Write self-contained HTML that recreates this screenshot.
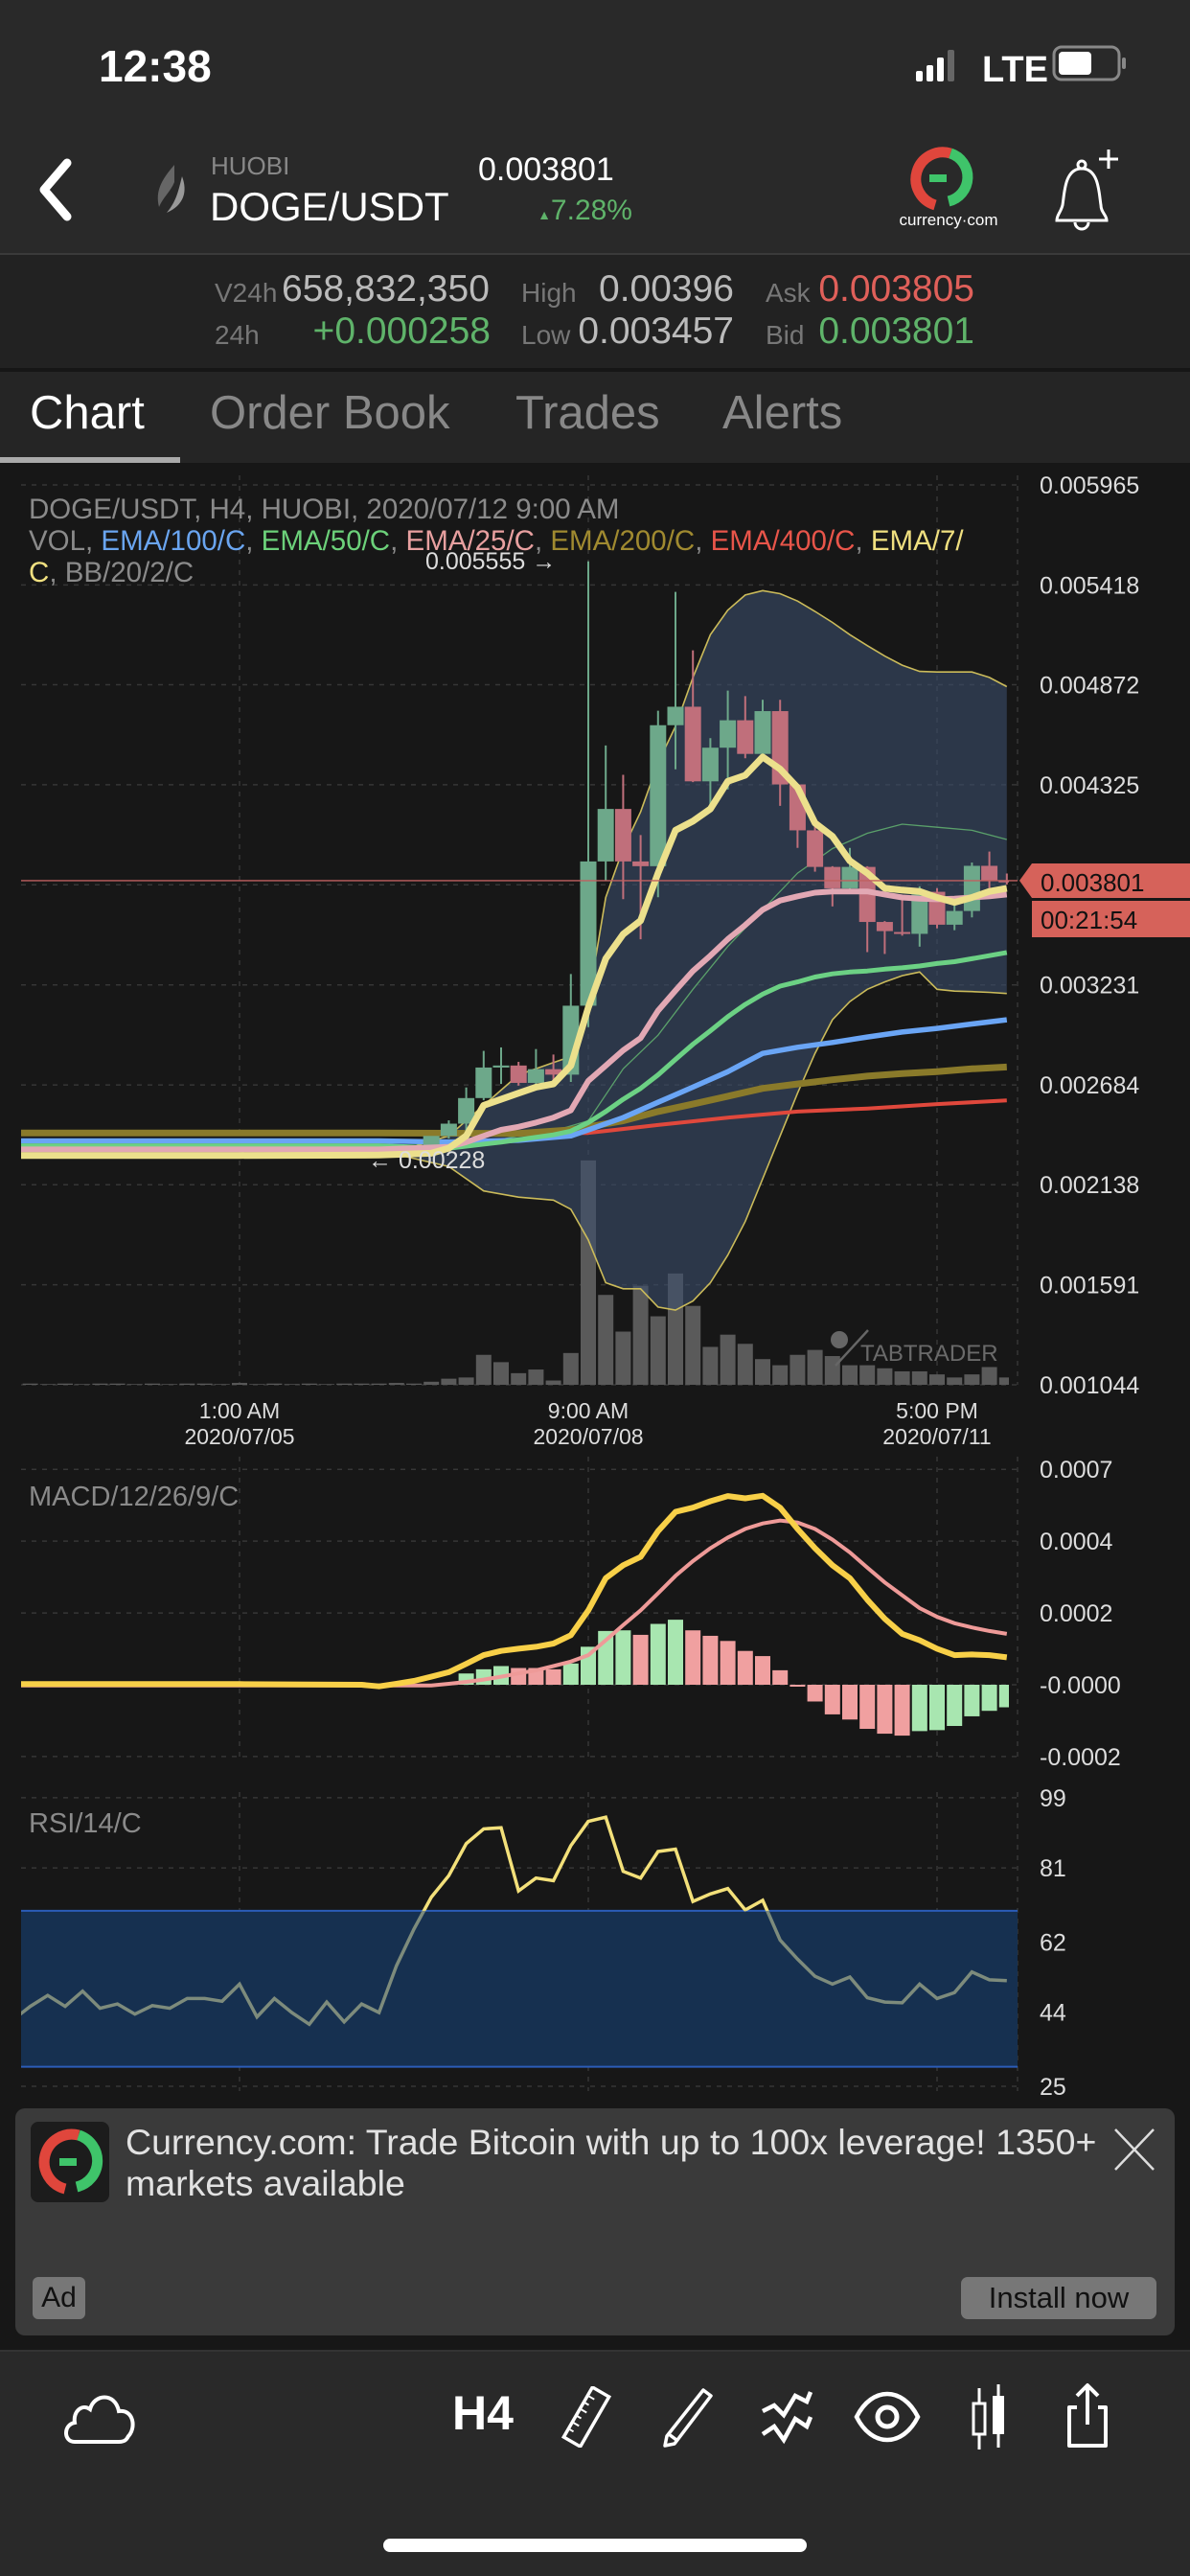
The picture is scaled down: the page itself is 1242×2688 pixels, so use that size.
<!DOCTYPE html>
<html><head><meta charset="utf-8">
<style>
*{margin:0;padding:0;box-sizing:border-box}
body{width:1242px;height:2688px;background:#171717;font-family:"Liberation Sans",sans-serif;position:relative;overflow:hidden;color:#fff}
.a{position:absolute;white-space:nowrap}
</style></head><body>
<div class="a" style="left:0;top:0;width:1242px;height:264px;background:#292929"></div>
<div class="a" style="left:103px;top:42px;font-size:46px;font-weight:bold">12:38</div>
<svg class="a" style="left:950px;top:44px" width="230" height="46">
<rect x="6" y="30" width="7" height="11" rx="2" fill="#fff"/><rect x="17" y="24" width="7" height="17" rx="2" fill="#fff"/><rect x="28" y="16" width="7" height="25" rx="2" fill="#fff"/><rect x="39" y="8" width="7" height="33" rx="2" fill="#666"/>
<text x="75" y="41" font-size="38" font-weight="bold" fill="#fff" font-family="Liberation Sans">LTE</text>
<rect x="150" y="5" width="68" height="34" rx="8" fill="none" stroke="#888" stroke-width="3"/><rect x="155" y="10" width="34" height="24" rx="4" fill="#fff"/><rect x="221" y="16" width="4" height="12" rx="2" fill="#888"/>
</svg>
<svg class="a" style="left:36px;top:164px" width="44" height="70"><path d="M34 6 L10 34 L34 62" stroke="#fff" stroke-width="9" fill="none" stroke-linecap="round" stroke-linejoin="round"/></svg>
<svg class="a" style="left:160px;top:170px" width="40" height="56"><path d="M22 2 C8 18 2 30 6 46 C10 36 18 30 22 20 Z" fill="#666"/><path d="M30 14 C36 30 32 44 14 52 C24 40 26 30 30 14Z" fill="#999"/></svg>
<div class="a" style="left:220px;top:158px;font-size:26px;color:#888">HUOBI</div>
<div class="a" style="left:219px;top:192px;font-size:42px;color:#fff">DOGE/USDT</div>
<div class="a" style="left:499px;top:158px;font-size:34px;color:#fff">0.003801</div>
<div class="a" style="left:550px;top:203px;width:110px;text-align:right;font-size:30px;color:#5fb36a"><span style="font-size:14px">▲</span>7.28%</div>
<svg class="a" style="left:930px;top:152px" width="120" height="90">
<path d="M62 8 A26 26 0 1 0 46 62" stroke="#e0463c" stroke-width="11" fill="none"/><path d="M62 8 A26 26 0 0 1 60 58" stroke="#3fc46a" stroke-width="11" fill="none"/><rect x="40" y="30" width="18" height="8" fill="#3fc46a"/>
<text x="60" y="83" font-size="17" fill="#fff" text-anchor="middle" font-family="Liberation Sans">currency·com</text></svg>
<svg class="a" style="left:1095px;top:152px" width="82" height="90">
<path d="M32 24 C16 26 16 50 14 62 C12 70 8 72 8 78 L60 78 C60 72 54 70 54 62 C52 50 52 26 36 24 Z" stroke="#fff" stroke-width="3" fill="none"/><circle cx="34" cy="20" r="4" stroke="#fff" stroke-width="3" fill="none"/><path d="M27 80 A7 7 0 0 0 41 80" stroke="#fff" stroke-width="3" fill="none"/><path d="M62 4 V24 M52 14 H72" stroke="#fff" stroke-width="3"/></svg>
<div class="a" style="left:0;top:264px;width:1242px;height:120px;background:#222;border-top:2px solid #3a3a3a"></div>
<div class="a" style="left:0;top:384px;width:1242px;height:4px;background:#161616"></div>
<div class="a" style="left:224px;top:290px;font-size:28px;color:#777">V24h</div>
<div class="a" style="left:294px;top:280px;font-size:39px;color:#bbb">658,832,350</div>
<div class="a" style="left:224px;top:334px;font-size:28px;color:#777">24h</div>
<div class="a" style="left:290px;top:324px;width:222px;text-align:right;font-size:39px;color:#5fb36a">+0.000258</div>
<div class="a" style="left:544px;top:290px;font-size:28px;color:#777">High</div>
<div class="a" style="left:596px;top:280px;width:170px;text-align:right;font-size:39px;color:#bbb">0.00396</div>
<div class="a" style="left:544px;top:334px;font-size:28px;color:#777">Low</div>
<div class="a" style="left:596px;top:324px;width:170px;text-align:right;font-size:39px;color:#bbb">0.003457</div>
<div class="a" style="left:799px;top:290px;font-size:28px;color:#777">Ask</div>
<div class="a" style="left:830px;top:280px;width:187px;text-align:right;font-size:39px;color:#e0605a">0.003805</div>
<div class="a" style="left:799px;top:334px;font-size:28px;color:#777">Bid</div>
<div class="a" style="left:830px;top:324px;width:187px;text-align:right;font-size:39px;color:#5fb36a">0.003801</div>
<div class="a" style="left:0;top:388px;width:1242px;height:95px;background:#252525"></div>
<div class="a" style="left:31px;top:403px;font-size:49px;color:#fff">Chart</div>
<div class="a" style="left:219px;top:403px;font-size:49px;color:#888">Order Book</div>
<div class="a" style="left:538px;top:403px;font-size:49px;color:#888">Trades</div>
<div class="a" style="left:754px;top:403px;font-size:49px;color:#888">Alerts</div>
<div class="a" style="left:0;top:477px;width:188px;height:6px;background:#aaa"></div>

<svg id="ch" class="a" style="left:0;top:483px" width="1242" height="1710" viewBox="0 483 1242 1710" font-family="Liberation Sans"></svg>

<div class="a" style="left:16px;top:2200px;width:1210px;height:237px;background:#3a3a3a;border-radius:10px"></div>
<svg class="a" style="left:32px;top:2214px" width="82" height="84"><rect width="82" height="84" rx="8" fill="#1c1c1c"/><path d="M50 14 A28 28 0 1 0 36 70" stroke="#e0463c" stroke-width="11" fill="none"/><path d="M50 14 A28 28 0 0 1 48 68" stroke="#3fc46a" stroke-width="11" fill="none"/><rect x="30" y="38" width="18" height="8" fill="#3fc46a"/></svg>
<div class="a" style="left:131px;top:2214px;font-size:37.5px;color:#e2e2e2;line-height:43px">Currency.com: Trade Bitcoin with up to 100x leverage! 1350+<br>markets available</div>
<svg class="a" style="left:1160px;top:2220px" width="48" height="46"><path d="M4 2 L44 44 M44 2 L4 44" stroke="#ddd" stroke-width="2.5"/></svg>
<div class="a" style="left:34px;top:2376px;width:55px;height:44px;background:#777;border-radius:6px;color:#111;font-size:30px;text-align:center;line-height:44px">Ad</div>
<div class="a" style="left:1003px;top:2376px;width:204px;height:44px;background:#777;border-radius:7px;color:#111;font-size:31px;text-align:center;line-height:44px">Install now</div>

<div class="a" style="left:0;top:2452px;width:1242px;height:236px;background:#292929;border-top:2px solid #333"></div>
<svg class="a" style="left:64px;top:2490px" width="82" height="64"><path d="M14 58 C2 58 2 40 14 38 C12 26 22 18 30 24 C34 8 56 6 60 26 C76 24 78 44 70 52 C68 56 66 58 60 58 Z" stroke="#fff" stroke-width="4" fill="none"/></svg>
<div class="a" style="left:472px;top:2489px;font-size:50px;font-weight:bold;color:#fff">H4</div>
<svg class="a" style="left:582px;top:2490px" width="60" height="64"><g transform="rotate(30 30 32)"><rect x="20" y="2" width="20" height="60" stroke="#fff" stroke-width="3.5" fill="none"/><path d="M20 12h8M20 20h6M20 28h8M20 36h6M20 44h8M20 52h6" stroke="#fff" stroke-width="2"/></g></svg>
<svg class="a" style="left:688px;top:2490px" width="58" height="64"><path d="M46 4 L54 10 L16 60 L6 62 L8 52 Z M10 50 L18 56" stroke="#fff" stroke-width="3.5" fill="none" stroke-linejoin="round"/></svg>
<svg class="a" style="left:792px;top:2490px" width="58" height="64"><path d="M4 26 L16 20 L26 30 L38 10 L50 16 L54 6 M4 50 L16 42 L26 56 L38 34 L50 42 L54 32" stroke="#fff" stroke-width="4.5" fill="none"/></svg>
<svg class="a" style="left:890px;top:2494px" width="72" height="56"><path d="M4 28 C20 -4 52 -4 68 28 C52 60 20 60 4 28 Z" stroke="#fff" stroke-width="4.5" fill="none"/><circle cx="36" cy="28" r="10" stroke="#fff" stroke-width="5" fill="none"/></svg>
<svg class="a" style="left:1010px;top:2486px" width="44" height="72"><path d="M12 6V70 M32 2V68" stroke="#fff" stroke-width="3"/><rect x="6" y="22" width="12" height="32" stroke="#fff" stroke-width="3" fill="#292929"/><rect x="26" y="14" width="12" height="40" fill="#fff"/></svg>
<svg class="a" style="left:1110px;top:2486px" width="50" height="70"><path d="M14 26 H6 V66 H44 V26 H36 M25 44 V4 M14 14 L25 3 L36 14" stroke="#fff" stroke-width="4" fill="none" stroke-linejoin="round"/></svg>
<div class="a" style="left:400px;top:2649px;width:442px;height:14px;background:#fff;border-radius:7px"></div>

<script>
// ---- data (prices in micro-USDT, 1e-6) ----
const candleIdx = [-32,-31,-30,-29,-28,-27,-26,-25,-24,-23,-22,-21,-20,-19,-18,-17,-16,-15,-14,-13,-12,-11,-10,-9,-8,-7,-6,-5,-4,-3,-2,-1,0,1,2,3,4,5,6,7,8,9,10,11,12,13,14,15,16,17,18,19,20,21,22,23,24];
const opens  = [2300,2302,2298,2301,2299,2300,2303,2300,2298,2301,2302,2299,2300,2304,2301,2298,2300,2297,2301,2299,2300,2303,2306,2310,2405,2472,2612,2779,2790,2695,2770,2740,3117,3906,4193,3906,3880,4651,4752,4344,4528,4678,4494,4728,4327,4076,3876,3759,3876,3575,3520,3510,3740,3560,3635,3882,3802];
const highs  = [2310,2311,2308,2310,2309,2310,2312,2309,2308,2310,2311,2309,2310,2314,2310,2308,2309,2307,2310,2309,2312,2316,2320,2330,2490,2670,2870,2889,2810,2880,2850,3290,5547,4540,4380,4050,4730,5380,5060,4580,4840,4810,4790,4790,4330,4100,3880,3980,3880,3580,3700,3770,3760,3710,3900,3960,3840];
const lows   = [2292,2294,2290,2293,2291,2292,2295,2292,2290,2293,2294,2291,2292,2296,2293,2290,2292,2289,2293,2291,2292,2295,2298,2302,2390,2400,2600,2689,2680,2680,2680,2700,3000,3800,3700,3480,3710,4410,4340,4200,4300,4470,4480,4210,3980,3850,3660,3740,3410,3400,3500,3440,3540,3530,3600,3760,3780];
const closes = [2302,2298,2301,2299,2300,2303,2300,2298,2301,2302,2299,2300,2304,2301,2298,2300,2297,2301,2299,2300,2303,2306,2310,2405,2472,2612,2779,2790,2695,2770,2740,3117,3906,4193,3906,3880,4651,4752,4344,4528,4678,4494,4728,4327,4076,3876,3759,3876,3575,3525,3510,3725,3560,3635,3882,3802,3801];
const volumes = [2,1,2,1,2,2,1,2,1,2,2,1,3,1,2,1,2,1,2,2,2,3,2,5,10,12,49,37,19,25,7,52,367,147,87,162,112,182,129,62,82,67,42,32,49,57,47,32,32,27,22,22,17,12,17,29,12];

const ema7Idx = [-33,-20,-12,-9,-8,-7,-6,-5,-4,-3,-2,-1,0,1,2,3,4,5,6,7,8,9,10,11,12,13,14,15,16,17,18,19,20,21,22,23,24];
const ema7 = [2298,2298,2300,2310,2338,2405,2572,2605,2639,2672,2689,2789,3107,3374,3508,3582,3842,4076,4126,4193,4344,4377,4477,4411,4310,4116,4043,3909,3842,3759,3749,3742,3709,3682,3709,3742,3759];
const ema25Idx = [-33,-12,-8,-7,-6,-5,-4,-3,-2,-1,0,1,2,3,4,5,6,7,8,9,10,11,12,13,14,15,16,17,18,19,20,21,22,23,24];
const ema25 = [2331,2331,2345,2371,2405,2438,2455,2478,2505,2545,2706,2789,2873,2940,3090,3200,3307,3391,3481,3558,3642,3692,3715,3735,3742,3742,3742,3725,3709,3702,3699,3702,3709,3715,3725];
const ema50Idx = [-33,-12,-8,-5,-2,-1,0,1,2,3,4,5,6,7,8,9,10,11,12,13,14,15,16,17,18,19,20,21,22,23,24];
const ema50 = [2351,2351,2338,2371,2411,2431,2478,2538,2605,2665,2739,2823,2906,2980,3057,3124,3180,3224,3247,3274,3291,3301,3307,3317,3324,3334,3348,3358,3374,3391,3408];
const ema100Idx = [-33,-12,-8,-4,-1,0,2,4,6,8,10,12,14,16,18,20,22,24];
const ema100 = [2378,2378,2371,2381,2405,2438,2505,2589,2672,2756,2856,2890,2916,2946,2973,2993,3017,3040];
const ema200Idx = [-33,-12,-4,-1,0,2,4,6,8,10,12,14,16,18,20,22,24];
const ema200 = [2421,2421,2418,2438,2455,2488,2538,2579,2622,2665,2689,2712,2732,2746,2756,2772,2782];
const ema400Idx = [-33,-12,0,4,8,12,16,20,24];
const ema400 = [2415,2415,2421,2465,2505,2538,2555,2579,2599];
const bbIdx = [-11,-8,-6,-4,-2,-1,0,1,2,3,4,5,6,7,8,9,10,11,12,13,14,15,16,17,18,19,20,21,22,23,24];
const bbUpper = [2321,2405,2572,2739,2806,2839,3140,3709,3976,4177,4444,4645,4912,5146,5280,5363,5387,5370,5330,5273,5213,5146,5086,5029,4979,4945,4942,4942,4942,4912,4862];
const bbLower = [2304,2238,2104,2070,2054,2004,1836,1602,1569,1569,1469,1452,1502,1602,1753,1937,2171,2405,2639,2856,3040,3140,3207,3247,3281,3301,3207,3197,3194,3190,3184];
const bbMidIdx = [-11,-8,-4,-2,0,2,4,6,8,10,12,14,16,18,20,22,24];
const bbMid = [2321,2331,2405,2431,2488,2772,2956,3207,3441,3642,3842,3976,4060,4110,4093,4076,4026];
const lastPrice = 3801;

const priceTicks = [5965,5418,4872,4325,3778,3231,2684,2138,1591,1044];
const priceTickLabels = ['0.005965','0.005418','0.004872','0.004325','','0.003231','0.002684','0.002138','0.001591','0.001044'];
const timeTickIdx = [-20,0,20];
const timeTickLabels = ['1:00 AM','9:00 AM','5:00 PM'];
const dateTickLabels = ['2020/07/05','2020/07/08','2020/07/11'];

// MACD (units of 1e-4)
const macdIdx = [-33,-20,-13,-12,-11,-10,-9,-8,-7,-6,-5,-4,-3,-2,-1,0,1,2,3,4,5,6,7,8,9,10,11,12,13,14,15,16,17,18,19,20,21,22,23,24];
const macdLine = [0.02,0.02,0.0,-0.05,0.03,0.12,0.25,0.39,0.65,0.92,1.05,1.12,1.18,1.28,1.54,2.31,3.31,3.71,3.97,4.77,5.37,5.50,5.70,5.86,5.79,5.87,5.50,4.84,4.24,3.71,3.31,2.64,2.05,1.58,1.38,1.12,0.92,0.94,0.92,0.85];
const signalIdx = [-33,-20,-9,-8,-7,-6,-5,-4,-3,-2,-1,0,1,2,3,4,5,6,7,8,9,10,11,12,13,14,15,16,17,18,19,20,21,22,23,24];
const signalLine = [-0.02,-0.02,-0.02,0.03,0.09,0.16,0.25,0.35,0.45,0.58,0.72,0.92,1.38,1.85,2.31,2.84,3.38,3.84,4.24,4.57,4.84,5.01,5.10,5.04,4.84,4.51,4.11,3.64,3.18,2.78,2.38,2.11,1.91,1.78,1.67,1.58];
const histIdx = [-7,-6,-5,-4,-3,-2,-1,0,1,2,3,4,5,6,7,8,9,10,11,12,13,14,15,16,17,18,19,20,21,22,23,24];
const histValues = [0.35,0.48,0.58,0.52,0.52,0.48,0.66,1.18,1.67,1.69,1.55,1.89,2.02,1.69,1.52,1.36,1.05,0.89,0.45,-0.03,-0.52,-0.92,-1.08,-1.37,-1.52,-1.58,-1.44,-1.41,-1.28,-0.98,-0.81,-0.70];
const macdTicks = [6.69,4.46,2.23,0,-2.23];
const macdTickLabels = ['0.0007','0.0004','0.0002','-0.0000','-0.0002'];

// RSI
const rsiIdx = [-33,-32,-31,-30,-29,-28,-27,-26,-25,-24,-23,-22,-21,-20,-19,-18,-17,-16,-15,-14,-13,-12,-11,-10,-9,-8,-7,-6,-5,-4,-3,-2,-1,0,1,2,3,4,5,6,7,8,9,10,11,12,13,14,15,16,17,18,19,20,21,22,23,24];
const rsiValues = [42.0,45.5,48.3,45.5,49.4,45.0,46.1,43.5,45.7,45.0,47.5,47.5,46.8,51.2,42.8,47.5,43.9,40.9,46.6,41.5,46.1,43.9,55.9,65.3,73.5,79.0,87.2,91.0,91.3,75.1,78.4,77.7,86.7,92.9,94.0,80.1,78.4,85.2,85.8,72.4,74.3,75.7,70.2,72.7,62.5,57.6,53.2,51.2,53.0,47.7,46.6,46.4,51.2,47.5,49.0,54.3,52.3,52.1];
const rsiTicks = [99,81,62,44,25];
const rsiBand = [70,30];

// ---- axes ----
const X0=614, STEP=18.2, PL=22, PR=1053, AXR=1062;
const xk = k => X0 + k*STEP;
const yP = p => 506 + (5965 - p)/4921*939;
const VOL_BASE=1445, yV = v => VOL_BASE - v*0.638;
const yM = v => 1758 - v*33.6;
const yR = v => 2177 - (v-25)*4.07;

const NS='http://www.w3.org/2000/svg', svg=document.getElementById('ch');
function el(tag, at, parent){const e=document.createElementNS(NS,tag);for(const k in at)e.setAttribute(k,at[k]);(parent||svg).appendChild(e);return e;}
function pts(idx, vals, fy){return idx.map((k,i)=>xk(k).toFixed(1)+','+fy(vals[i]).toFixed(1)).join(' ');}

const defs=el('defs',{});
const cp=el('clipPath',{id:'plot'},defs); el('rect',{x:PL,y:483,width:PR-PL,height:1710},cp);
const cpTop=el('clipPath',{id:'rsiTop'},defs); el('rect',{x:PL,y:1860,width:PR-PL,height:yR(rsiBand[0])-1860},cpTop);
const cpBand=el('clipPath',{id:'rsiIn'},defs); el('rect',{x:PL,y:yR(rsiBand[0]),width:PR-PL,height:300},cpBand);

// grids
const grid=el('g',{stroke:'#363636','stroke-width':1.5,'stroke-dasharray':'5 6'});


priceTicks.forEach(p=>el('line',{x1:PL,x2:AXR,y1:yP(p),y2:yP(p)},grid));
macdTicks.forEach(v=>el('line',{x1:PL,x2:AXR,y1:yM(v),y2:yM(v)},grid));
rsiTicks.forEach(v=>el('line',{x1:PL,x2:AXR,y1:yR(v),y2:yR(v)},grid));
timeTickIdx.forEach(k=>{[[496,1445],[1520,1835],[1870,2182]].forEach(r=>el('line',{x1:xk(k),x2:xk(k),y1:r[0],y2:r[1]},grid));});
[[496,1445],[1520,1835],[1870,2182]].forEach(r=>el('line',{x1:AXR,x2:AXR,y1:r[0],y2:r[1]},grid));

const plot=el('g',{'clip-path':'url(#plot)'});
// volume
const vg=el('g',{fill:'#5a5a5a'},plot);


candleIdx.forEach((k,i)=>{const r=el('rect',{x:xk(k)-8,y:yV(volumes[i]),width:16,height:volumes[i]*0.638},vg);

});
// BB band
const bandPts = bbIdx.map((k,i)=>xk(k)+','+yP(bbUpper[i])).concat(bbIdx.slice().reverse().map((k,i)=>xk(k)+','+yP(bbLower[bbIdx.length-1-i]))).join(' ');
const band=el('polygon',{points:bandPts,fill:'#3a4d6a','fill-opacity':0.6},plot);


[bbUpper,bbLower].forEach(a=>{const l=el('polyline',{points:pts(bbIdx,a,yP),fill:'none',stroke:'#cbbb5a','stroke-width':1.6},plot);

});
const mid=el('polyline',{points:pts(bbMidIdx,bbMid,yP),fill:'none',stroke:'#5aa06a','stroke-width':1.3},plot);


// EMAs
[[ema400Idx,ema400,'#e0483c',4,'ema-400'],[ema200Idx,ema200,'#8a7a2a',7,'ema-200'],[ema100Idx,ema100,'#6aa5f5',5.5,'ema-100'],[ema50Idx,ema50,'#6cd184',5,'ema-50']].forEach(s=>{
 const l=el('polyline',{points:pts(s[0],s[1],yP),fill:'none',stroke:s[2],'stroke-width':s[3],'stroke-linejoin':'round'},plot);
 
 });
// candles
const cg=el('g',{},plot);


candleIdx.forEach((k,i)=>{
 const up=closes[i]>=opens[i], col=up?'#6da88a':'#c06f7b', x=xk(k);
 el('line',{x1:x,x2:x,y1:yP(highs[i]),y2:yP(lows[i]),stroke:col,'stroke-width':2},cg);
 const t=yP(Math.max(opens[i],closes[i])), b=yP(Math.min(opens[i],closes[i]));
 const r=el('rect',{x:x-8.5,y:t,width:17,height:Math.max(2,b-t),fill:col},cg);
 
 
});
[[ema25Idx,ema25,'#e2a8b4',6,'ema-25'],[ema7Idx,ema7,'#ece08c',7,'ema-7']].forEach(s=>{
 const l=el('polyline',{points:pts(s[0],s[1],yP),fill:'none',stroke:s[2],'stroke-width':s[3],'stroke-linejoin':'round'},plot);
 
 });
const pl=el('line',{x1:PL,x2:AXR,y1:yP(lastPrice),y2:yP(lastPrice),stroke:'#c06060','stroke-width':1.3});



// price axis labels
priceTicks.forEach((p,i)=>{const t=el('text',{x:1085,y:yP(p)+9,'font-size':25,fill:'#ddd'});t.textContent=priceTickLabels[i];

});
const lp=el('polygon',{points:`${AXR+2},${yP(lastPrice)} 1077,901 1242,901 1242,937 1077,937`,fill:'#d6625a'});


const lpt=el('text',{x:1086,y:930,'font-size':26,fill:'#111'});lpt.textContent='0.003801';
el('rect',{x:1077,y:940,width:165,height:38,fill:'#d6625a'});
const cd=el('text',{x:1086,y:969,'font-size':26,fill:'#111'});cd.textContent='00:21:54';



// time labels
timeTickIdx.forEach((k,i)=>{const a=el('text',{x:xk(k),y:1480,'font-size':23,fill:'#ddd','text-anchor':'middle'});a.textContent=timeTickLabels[i];


const b=el('text',{x:xk(k),y:1507,'font-size':23,fill:'#ddd','text-anchor':'middle'});b.textContent=dateTickLabels[i];

});

// legend
function tline(y, parts){const t=el('text',{x:30,y:y,'font-size':29.5});parts.forEach(p=>{const s=el('tspan',{fill:p[1]},t);s.textContent=p[0];});return t;}
const lg1=tline(541,[['DOGE/USDT, H4, HUOBI, 2020/07/12 9:00 AM','#8a8a8a']]);


const lg2=tline(574,[['VOL, ','#8a8a8a'],['EMA/100/C','#6aa5f0'],[', ','#8a8a8a'],['EMA/50/C','#6cd17a'],[', ','#8a8a8a'],['EMA/25/C','#e8a0a0'],[', ','#8a8a8a'],['EMA/200/C','#a08a30'],[', ','#8a8a8a'],['EMA/400/C','#e8554a'],[', ','#8a8a8a'],['EMA/7/','#f0e080']]);


const lg3=tline(607,[['C','#f0e080'],[', BB/20/2/C','#8a8a8a']]);


const hi=el('text',{x:444,y:594,'font-size':25,fill:'#ddd'});hi.textContent='0.005555  →';


const lo=el('text',{x:384,y:1219,'font-size':25,fill:'#ddd'});lo.textContent='←  0.00228';


const wm=el('text',{x:898,y:1420,'font-size':24,fill:'#6a6a6a'});wm.textContent='TABTRADER';


el('circle',{cx:876,cy:1398,r:9,fill:'#666'});el('line',{x1:872,y1:1425,x2:906,y2:1388,stroke:'#666','stroke-width':2.5});

// MACD
const mt=el('text',{x:30,y:1571,'font-size':29,fill:'#8a8a8a'});mt.textContent='MACD/12/26/9/C';


macdTicks.forEach((v,i)=>{const t=el('text',{x:1085,y:yM(v)+9,'font-size':25,fill:'#ddd'});t.textContent=macdTickLabels[i];

});
const hg=el('g',{'clip-path':'url(#plot)'});


histIdx.forEach((k,i)=>{const v=histValues[i], prev=i>0?histValues[i-1]:0, col=v>prev?'#a8e6b0':'#f0a0a0';
 const y0=yM(0), y1=yM(v);
 const r=el('rect',{x:xk(k)-8,y:Math.min(y0,y1),width:16,height:Math.max(2,Math.abs(y1-y0)),fill:col},hg);
 
 });
const sl=el('polyline',{points:pts(signalIdx,signalLine,yM),fill:'none',stroke:'#ee9a98','stroke-width':4,'clip-path':'url(#plot)'});


const ml=el('polyline',{points:pts(macdIdx,macdLine,yM),fill:'none',stroke:'#f8d048','stroke-width':6,'stroke-linejoin':'round','clip-path':'url(#plot)'});



// RSI
const rb=el('rect',{x:PL,y:yR(rsiBand[0]),width:AXR-PL,height:yR(rsiBand[1])-yR(rsiBand[0]),fill:'#163050'});


rsiBand.forEach(v=>el('line',{x1:PL,x2:AXR,y1:yR(v),y2:yR(v),stroke:'#2b5cb8','stroke-width':2}));
const rt=el('text',{x:30,y:1912,'font-size':29,fill:'#8a8a8a'});rt.textContent='RSI/14/C';


rsiTicks.forEach(v=>{const t=el('text',{x:1085,y:yR(v)+9,'font-size':25,fill:'#ddd'});t.textContent=String(v);

});
const rp=pts(rsiIdx,rsiValues,yR);
const r1=el('polyline',{points:rp,fill:'none',stroke:'#7d8b7c','stroke-width':3.5,'clip-path':'url(#rsiIn)'});


const r2=el('polyline',{points:rp,fill:'none',stroke:'#f3e07a','stroke-width':3.5,'clip-path':'url(#rsiTop)'});


</script>
</body></html>
